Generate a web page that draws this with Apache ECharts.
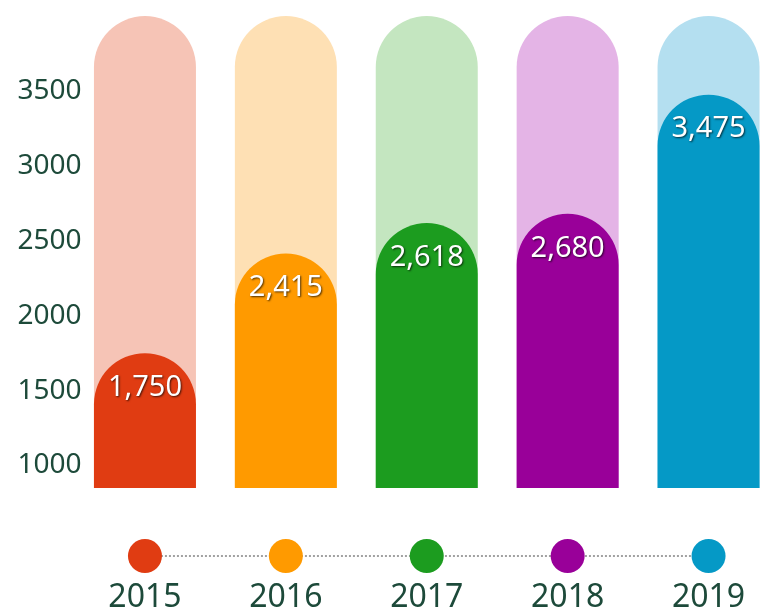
<!DOCTYPE html>
<html>
<head>
<meta charset="utf-8">
<script src="https://cdn.jsdelivr.net/npm/echarts@6/dist/echarts.min.js"></script>
<style>
  html, body { margin: 0; padding: 0; background: #fff; }
  #chart { width: 771px; height: 616px; }
</style>
</head>
<body>
<div id="chart"></div>
<script>
  var years = ['2015', '2016', '2017', '2018', '2019'];
  var values = [1750, 2415, 2618, 2680, 3475];
  var trackValues = [4000, 4000, 4000, 4000, 4000];   // light background bars
  var timelineLevel = [1, 1, 1, 1, 1];                 // dots under the bars
  var yTicks = [1000, 1500, 2000, 2500, 3000, 3500];

  var darkColors = ['#e03c12', '#ff9a00', '#1c9c1f', '#990099', '#0599c6'];
  var lightColors = ['#f6c4b6', '#fee0b4', '#c4e6c0', '#e4b4e6', '#b4dff0'];
  var textColor = '#1d4a3a';

  var chart = echarts.init(document.getElementById('chart'));

  var option = {
    backgroundColor: '#fff',
    animation: false,
    grid: [
      {left: 74.5, width: 704.5, top: 16, height: 472, outerBoundsMode: 'none'},
      {left: 74.5, width: 704.5, top: 540, height: 32, outerBoundsMode: 'none'}
    ],
    xAxis: [{
      type: 'category',
      data: years,
      gridIndex: 0,
      axisLine: {show: false},
      axisTick: {show: false},
      axisLabel: {show: false}
    }, {
      type: 'category',
      data: years,
      gridIndex: 1,
      axisLine: {show: false},
      axisTick: {show: false},
      axisLabel: {
        margin: 10,
        fontFamily: 'Noto Sans',
        fontSize: 32,
        color: textColor
      }
    }],
    yAxis: [{
      type: 'value',
      gridIndex: 0,
      min: 850,
      max: 4000,
      interval: 50,
      axisLine: {show: false},
      axisTick: {show: false},
      splitLine: {show: false},
      axisLabel: {
        margin: -7,
        fontFamily: 'Noto Sans',
        fontSize: 28,
        color: textColor,
        formatter: function (v) {
          return yTicks.indexOf(v) >= 0 ? String(v) : '';
        }
      }
    }, {
      type: 'value',
      gridIndex: 1,
      min: 0,
      max: 2,
      show: false
    }],
    series: [{
      type: 'bar',
      xAxisIndex: 0,
      yAxisIndex: 0,
      barWidth: 102,
      barGap: '-100%',
      silent: true,
      data: trackValues.map(function (v, i) {
        return {value: v, itemStyle: {color: lightColors[i]}};
      }),
      itemStyle: {borderRadius: [51, 51, 0, 0]}
    }, {
      type: 'bar',
      xAxisIndex: 0,
      yAxisIndex: 0,
      barWidth: 102,
      barGap: '-100%',
      data: values.map(function (v, i) {
        return {value: v, itemStyle: {color: darkColors[i]}};
      }),
      itemStyle: {borderRadius: [51, 51, 0, 0]},
      label: {
        show: true,
        position: 'insideTop',
        distance: 20,
        fontFamily: 'Noto Sans',
        fontSize: 29,
        color: '#fff',
        textShadowColor: 'rgba(0,0,0,0.7)',
        textShadowBlur: 2,
        textShadowOffsetX: 1,
        textShadowOffsetY: 1,
        formatter: function (p) {
          return p.value.toLocaleString('en-US');
        }
      }
    }, {
      /*时间轴的圆点和虚线*/
      type: 'line',
      xAxisIndex: 1,
      yAxisIndex: 1,
      symbol: 'circle',
      symbolSize: 34,
      lineStyle: {color: '#444', width: 1, type: [2, 2]},
      data: timelineLevel.map(function (v, i) {
        return {value: v, itemStyle: {color: darkColors[i]}};
      })
    }]
  };
  chart.setOption(option);
</script>
</body>
</html>
